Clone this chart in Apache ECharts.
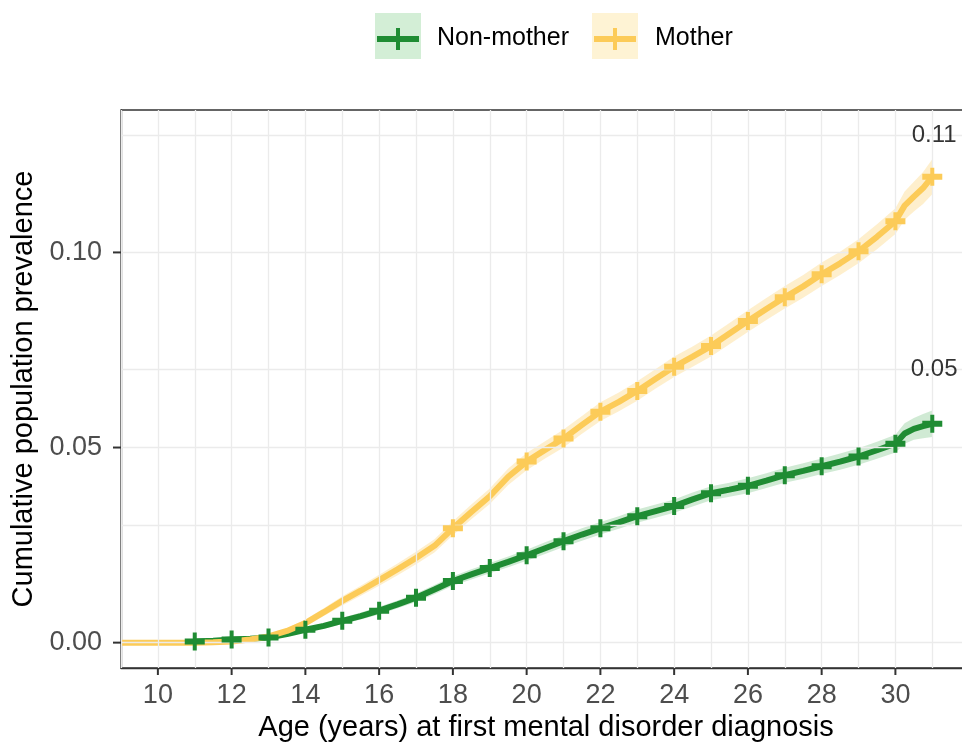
<!DOCTYPE html>
<html>
<head>
<meta charset="utf-8">
<script src="https://cdn.jsdelivr.net/npm/echarts@6/dist/echarts.min.js"></script>
<style>
  html, body { margin: 0; padding: 0; background: #fff; }
  #chart { width: 962px; height: 744px; }
</style>
</head>
<body>
<div id="chart"></div>
<script>
// 数据
const momAges = [9, 10, 11, 11.5, 12, 12.5, 13, 13.5, 14, 14.5, 15, 15.5, 16, 16.5, 17, 17.5, 18, 18.5, 19, 19.5, 20, 20.5, 21, 21.5, 22, 22.5, 23, 23.5, 24, 24.5, 25, 25.5, 26, 26.5, 27, 27.5, 28, 28.5, 29, 29.5, 30, 30.25, 30.5, 30.75, 31];
const momValue = [0, 0, 0, 0.0001, 0.0003, 0.0008, 0.0016, 0.003, 0.005, 0.0078, 0.0107, 0.0133, 0.016, 0.0188, 0.0217, 0.0248, 0.0293, 0.0335, 0.0375, 0.0425, 0.0464, 0.0494, 0.0523, 0.0558, 0.0592, 0.0617, 0.0645, 0.0676, 0.0707, 0.0733, 0.076, 0.0792, 0.0824, 0.0855, 0.0885, 0.0913, 0.0944, 0.0972, 0.1003, 0.104, 0.108, 0.112, 0.1143, 0.1165, 0.1194];
const momHalfCI = [0, 0, 0, 0.0001, 0.0002, 0.0003, 0.0005, 0.0007, 0.0009, 0.001, 0.0012, 0.0013, 0.0014, 0.0015, 0.0016, 0.0017, 0.0018, 0.0019, 0.002, 0.0021, 0.0022, 0.0022, 0.0023, 0.0023, 0.0024, 0.0024, 0.0025, 0.0025, 0.0026, 0.0026, 0.0027, 0.0027, 0.0028, 0.0028, 0.0029, 0.0029, 0.003, 0.003, 0.0031, 0.0032, 0.0033, 0.0036, 0.0038, 0.0041, 0.0045];
const momMarkAges = [18, 20, 21, 22, 23, 24, 25, 26, 27, 28, 29, 30, 31];

const nonAges = [11, 11.5, 12, 12.5, 13, 13.5, 14, 14.5, 15, 15.5, 16, 16.5, 17, 17.5, 18, 18.5, 19, 19.5, 20, 20.5, 21, 21.5, 22, 22.5, 23, 23.5, 24, 24.5, 25, 25.5, 26, 26.5, 27, 27.5, 28, 28.5, 29, 29.5, 30, 30.25, 30.5, 30.75, 31];
const nonValue = [0.0003, 0.0005, 0.0008, 0.001, 0.0013, 0.0022, 0.0033, 0.0043, 0.0056, 0.0068, 0.0082, 0.0098, 0.0115, 0.0136, 0.0158, 0.0175, 0.0191, 0.0207, 0.0224, 0.0242, 0.026, 0.0277, 0.0293, 0.0308, 0.0324, 0.0337, 0.035, 0.0367, 0.0383, 0.0392, 0.0402, 0.0415, 0.0429, 0.044, 0.0452, 0.0464, 0.0477, 0.0493, 0.051, 0.0536, 0.0548, 0.0555, 0.0561];
const nonHalfCI = [0.0002, 0.0002, 0.0003, 0.0003, 0.0004, 0.0005, 0.0006, 0.0007, 0.0008, 0.0009, 0.001, 0.001, 0.0011, 0.0012, 0.0012, 0.0013, 0.0013, 0.0014, 0.0014, 0.0015, 0.0015, 0.0016, 0.0016, 0.0016, 0.0017, 0.0017, 0.0017, 0.0018, 0.0018, 0.0018, 0.0019, 0.0019, 0.0019, 0.002, 0.002, 0.0021, 0.0021, 0.0022, 0.0023, 0.0026, 0.0028, 0.0031, 0.0034];
const nonMarkAges = [11, 12, 13, 14, 15, 16, 17, 18, 19, 20, 21, 22, 23, 24, 25, 26, 27, 28, 29, 30, 31];

const endLabelText = ["0.11", "0.05"];
const endLabelAge = [31.05, 31.05];
const endLabelY = [0.13, 0.07];

const xTickValues = [10, 12, 14, 16, 18, 20, 22, 24, 26, 28, 30];
const xGridValues = [9, 10, 11, 12, 13, 14, 15, 16, 17, 18, 19, 20, 21, 22, 23, 24, 25, 26, 27, 28, 29, 30, 31];
const yTickValues = [0, 0.05, 0.1];
const yGridValues = [0, 0.025, 0.05, 0.075, 0.1, 0.125];

const X_MIN = 9, X_MAX = 32.05;
const Y_MIN = -0.0065, Y_MAX = 0.1365;

const GREEN = "#1f8c33";
const YELLOW = "#fccb58";
const FONT = "'Liberation Sans', Arial, sans-serif";
const PLUS = "path://M8,0H12V6H20V12H12V18H8V12H0V6H8Z";

const chart = echarts.init(document.getElementById("chart"));

const toPairs = (ages, vals) => ages.map((a, i) => [a, vals[i]]);
const marks = (markAges, ages, vals) =>
  markAges.map((a) => [a, vals[ages.indexOf(a)]]);

// CI band as one polygon
const band = (ages, vals, half, color) => ({
  type: "custom",
  z: 2,
  silent: true,
  data: [[ages[0], vals[0]]],
  encode: { x: 0, y: 1 },
  renderItem: (params, api) => {
    const up = ages.map((a, i) => api.coord([a, vals[i] + half[i]]));
    const lo = ages.map((a, i) => api.coord([a, vals[i] - half[i]])).reverse();
    return {
      type: "polygon",
      shape: { points: up.concat(lo) },
      style: { fill: color },
    };
  },
});

// 刻度线 outside the panel
const ticks = (values, isX, len) => ({
  type: "custom",
  z: 8,
  silent: true,
  clip: false,
  data: values.map((v) => (isX ? [v, Y_MIN] : [X_MIN, v])),
  encode: { x: 0, y: 1 },
  renderItem: (params, api) => {
    const p = api.coord([api.value(0), api.value(1)]);
    return {
      type: "line",
      shape: isX
        ? { x1: p[0], y1: p[1], x2: p[0], y2: p[1] + len }
        : { x1: p[0] - len, y1: p[1], x2: p[0], y2: p[1] },
      style: { stroke: "#333", lineWidth: 2 },
    };
  },
});

const option = {
  animation: false,
  grid: {
    left: 121,
    top: 110,
    right: -9,
    bottom: 76,
    outerBoundsMode: "none",
    containLabel: false,
    show: true,
    borderColor: "#333",
    borderWidth: 1.3,
    backgroundColor: "#fff",
  },
  xAxis: {
    type: "value",
    min: X_MIN,
    max: X_MAX,
    name: "Age (years) at first mental disorder diagnosis",
    nameLocation: "middle",
    nameGap: 45,
    nameTextStyle: { fontSize: 29, color: "#000", fontFamily: FONT },
    axisLine: { show: true, onZero: false, lineStyle: { color: "#333", width: 1.3 } },
    axisTick: { show: false },
    axisLabel: {
      customValues: xTickValues,
      fontSize: 27,
      color: "#4d4d4d",
      fontFamily: FONT,
      margin: 14,
    },
    splitLine: { show: false },
  },
  yAxis: {
    type: "value",
    min: Y_MIN,
    max: Y_MAX,
    name: "Cumulative population prevalence",
    nameLocation: "middle",
    nameGap: 78,
    nameTextStyle: { fontSize: 29, color: "#000", fontFamily: FONT },
    axisLine: { show: true, onZero: false, lineStyle: { color: "#333", width: 1.3 } },
    axisTick: { show: false },
    axisLabel: {
      customValues: yTickValues,
      formatter: (v) => v.toFixed(2),
      fontSize: 27,
      color: "#4d4d4d",
      fontFamily: FONT,
      margin: 19,
    },
    splitLine: { show: false },
  },
  graphic: [
    { type: "rect", shape: { x: 375, y: 13, width: 46, height: 46 }, style: { fill: "#d3eed6" } },
    { type: "rect", shape: { x: 377, y: 36, width: 42, height: 6 }, style: { fill: GREEN } },
    { type: "rect", shape: { x: 396, y: 28, width: 4, height: 22 }, style: { fill: GREEN } },
    { type: "text", x: 437, y: 38, style: { text: "Non-mother", fontSize: 25, fontFamily: FONT, fill: "#000", verticalAlign: "middle" } },
    { type: "rect", shape: { x: 592, y: 13, width: 46, height: 46 }, style: { fill: "#fef3d4" } },
    { type: "rect", shape: { x: 594, y: 36, width: 42, height: 6 }, style: { fill: YELLOW } },
    { type: "rect", shape: { x: 613, y: 28, width: 4, height: 22 }, style: { fill: YELLOW } },
    { type: "text", x: 655, y: 38, style: { text: "Mother", fontSize: 25, fontFamily: FONT, fill: "#000", verticalAlign: "middle" } },
  ],
  series: [
    {
      // 网格线
      type: "line",
      data: [],
      z: 1,
      silent: true,
      markLine: {
        silent: true,
        symbol: ["none", "none"],
        label: { show: false },
        lineStyle: { color: "#ebebeb", type: "solid", width: 1.3 },
        data: xGridValues
          .map((v) => ({ xAxis: v }))
          .concat(yGridValues.map((v) => ({ yAxis: v }))),
      },
    },
    band(momAges, momValue, momHalfCI, "rgba(252,203,88,0.3)"),
    band(nonAges, nonValue, nonHalfCI, "rgba(40,160,60,0.22)"),
    {
      name: "Non-mother",
      type: "line",
      z: 3,
      data: toPairs(nonAges, nonValue),
      showSymbol: false,
      lineStyle: { color: GREEN, width: 6 },
    },
    {
      name: "Mother",
      type: "line",
      z: 4,
      data: toPairs(momAges, momValue),
      showSymbol: false,
      lineStyle: { color: YELLOW, width: 6 },
    },
    {
      type: "scatter",
      z: 5,
      data: marks(momMarkAges, momAges, momValue),
      symbol: PLUS,
      symbolSize: [20, 18],
      itemStyle: { color: YELLOW, opacity: 1 },
    },
    {
      type: "scatter",
      z: 6,
      data: marks(nonMarkAges, nonAges, nonValue),
      symbol: PLUS,
      symbolSize: [20, 18],
      itemStyle: { color: GREEN, opacity: 1 },
    },
    {
      type: "scatter",
      z: 7,
      symbolSize: 0,
      data: endLabelText.map((t, i) => [endLabelAge[i], endLabelY[i], t]),
      label: {
        show: true,
        position: "inside",
        formatter: (p) => p.value[2],
        fontSize: 24,
        color: "#000",
        fontFamily: FONT,
      },
    },
    ticks(xTickValues, true, 7),
    ticks(yTickValues, false, 8),
  ],
};
chart.setOption(option);
</script>
</body>
</html>
